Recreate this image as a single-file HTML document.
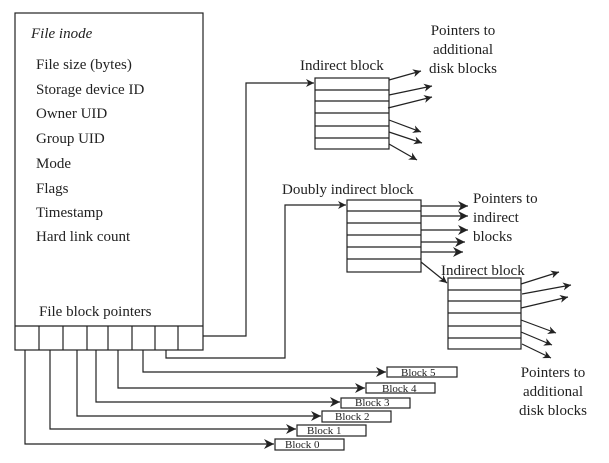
<!DOCTYPE html>
<html><head><style>
html,body{margin:0;padding:0;background:#fff;}
svg{display:block;}
text{font-family:"Liberation Serif",serif;fill:#222;}
</style></head><body>
<svg width="609" height="463" viewBox="0 0 609 463" xmlns="http://www.w3.org/2000/svg">
<defs>
<marker id="a" viewBox="0 0 10 10" refX="10" refY="5" markerWidth="8" markerHeight="8" orient="auto" markerUnits="userSpaceOnUse">
<path d="M0,0 L10,5 L0,10 L3,5 Z" fill="#222"/></marker>
<marker id="b" viewBox="0 0 10 10" refX="10" refY="5" markerWidth="12" markerHeight="10" orient="auto" markerUnits="userSpaceOnUse">
<path d="M0,0 L10,5 L0,10 L3,5 Z" fill="#222"/></marker>
</defs>
<g stroke="#222" stroke-width="1.2" fill="none">
<rect x="15" y="13" width="188" height="337"/>
<line x1="15" y1="326" x2="203" y2="326"/>
<line x1="39" y1="326" x2="39" y2="350"/><line x1="63" y1="326" x2="63" y2="350"/>
<line x1="87" y1="326" x2="87" y2="350"/><line x1="108" y1="326" x2="108" y2="350"/>
<line x1="132" y1="326" x2="132" y2="350"/><line x1="155" y1="326" x2="155" y2="350"/>
<line x1="178" y1="326" x2="178" y2="350"/>
<!-- direct pointers -->
<polyline points="25,350 25,444 274,444" marker-end="url(#b)"/>
<polyline points="50,350 50,429 296,429" marker-end="url(#b)"/>
<polyline points="77,350 77,416 321,416" marker-end="url(#b)"/>
<polyline points="96,350 96,402 340,402" marker-end="url(#b)"/>
<polyline points="118,350 118,388 365,388" marker-end="url(#b)"/>
<polyline points="143,350 143,372 386,372" marker-end="url(#b)"/>
<rect x="275" y="439" width="69" height="11"/>
<rect x="297" y="425" width="69" height="11"/>
<rect x="322" y="411" width="69" height="11"/>
<rect x="341" y="398" width="69" height="10"/>
<rect x="366" y="383" width="69" height="10"/>
<rect x="387" y="367" width="70" height="10"/>
<!-- to indirect -->
<polyline points="203,336 246,336 246,83 314,83" marker-end="url(#a)"/>
<polyline points="166,350 166,358 285,358 285,205 346,205" marker-end="url(#a)"/>
<!-- indirect block 1 -->
<rect x="315" y="78" width="74" height="71"/>
<line x1="315" y1="90" x2="389" y2="90"/><line x1="315" y1="101" x2="389" y2="101"/>
<line x1="315" y1="113" x2="389" y2="113"/><line x1="315" y1="126" x2="389" y2="126"/>
<line x1="315" y1="138" x2="389" y2="138"/>
<line x1="389" y1="80" x2="421" y2="71" marker-end="url(#a)"/>
<line x1="389" y1="95" x2="432" y2="86" marker-end="url(#a)"/>
<line x1="388" y1="108" x2="432" y2="97" marker-end="url(#a)"/>
<line x1="389" y1="120" x2="421" y2="132" marker-end="url(#a)"/>
<line x1="389" y1="132" x2="422" y2="143" marker-end="url(#a)"/>
<line x1="389" y1="144" x2="417" y2="160" marker-end="url(#a)"/>
<!-- doubly -->
<rect x="347" y="200" width="74" height="72"/>
<line x1="347" y1="211" x2="421" y2="211"/><line x1="347" y1="223" x2="421" y2="223"/>
<line x1="347" y1="235" x2="421" y2="235"/><line x1="347" y1="247" x2="421" y2="247"/>
<line x1="347" y1="259" x2="421" y2="259"/>
<line x1="421" y1="206" x2="468" y2="206" marker-end="url(#b)"/>
<line x1="421" y1="216" x2="468" y2="216" marker-end="url(#b)"/>
<line x1="421" y1="230" x2="468" y2="230" marker-end="url(#b)"/>
<line x1="421" y1="242" x2="465" y2="242" marker-end="url(#b)"/>
<line x1="421" y1="252" x2="463" y2="252" marker-end="url(#b)"/>
<line x1="421" y1="262" x2="447" y2="283" marker-end="url(#a)"/>
<!-- indirect block 2 -->
<rect x="448" y="278" width="73" height="71"/>
<line x1="448" y1="290" x2="521" y2="290"/><line x1="448" y1="301" x2="521" y2="301"/>
<line x1="448" y1="313" x2="521" y2="313"/><line x1="448" y1="326" x2="521" y2="326"/>
<line x1="448" y1="338" x2="521" y2="338"/>
<line x1="521" y1="284" x2="559" y2="272" marker-end="url(#a)"/>
<line x1="522" y1="294" x2="571" y2="285" marker-end="url(#a)"/>
<line x1="521" y1="308" x2="568" y2="297" marker-end="url(#a)"/>
<line x1="521" y1="320" x2="556" y2="333" marker-end="url(#a)"/>
<line x1="521" y1="332" x2="552" y2="345" marker-end="url(#a)"/>
<line x1="522" y1="344" x2="551" y2="358" marker-end="url(#a)"/>
</g>
<g font-size="15">
<text x="31" y="38" font-style="italic">File inode</text>
<text x="36" y="69">File size (bytes)</text>
<text x="36" y="94">Storage device ID</text>
<text x="36" y="118">Owner UID</text>
<text x="36" y="143">Group UID</text>
<text x="36" y="168">Mode</text>
<text x="36" y="193">Flags</text>
<text x="36" y="217">Timestamp</text>
<text x="36" y="241">Hard link count</text>
<text x="39" y="316">File block pointers</text>
<text x="300" y="70">Indirect block</text>
<text x="282" y="194">Doubly indirect block</text>
<text x="441" y="275">Indirect block</text>
<text x="463" y="35" text-anchor="middle">Pointers to</text>
<text x="463" y="54" text-anchor="middle">additional</text>
<text x="463" y="73" text-anchor="middle">disk blocks</text>
<text x="473" y="203">Pointers to</text>
<text x="473" y="222">indirect</text>
<text x="473" y="241">blocks</text>
<text x="553" y="377" text-anchor="middle">Pointers to</text>
<text x="553" y="396" text-anchor="middle">additional</text>
<text x="553" y="415" text-anchor="middle">disk blocks</text>
</g>
<g font-size="11">
<text x="285" y="448">Block 0</text>
<text x="307" y="434">Block 1</text>
<text x="335" y="420">Block 2</text>
<text x="355" y="406">Block 3</text>
<text x="382" y="392">Block 4</text>
<text x="401" y="376">Block 5</text>
</g>
</svg>
</body></html>
